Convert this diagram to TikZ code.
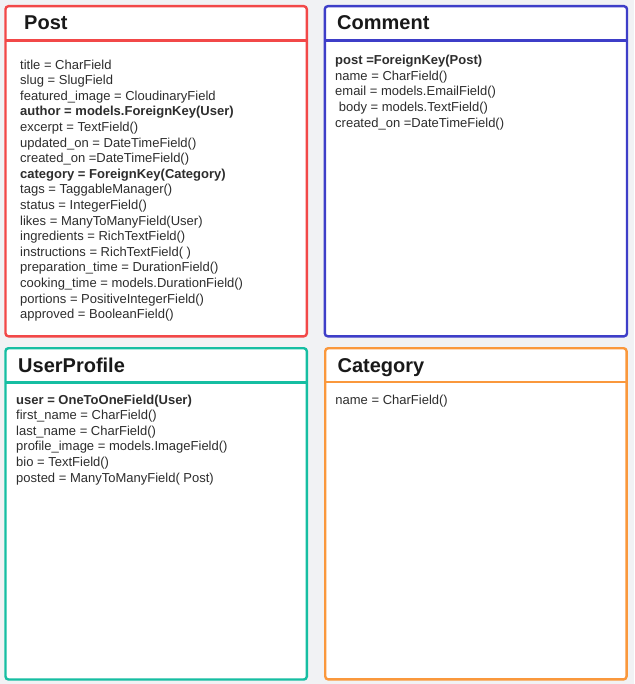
\documentclass[tikz,border=0pt]{standalone}
\usepackage{fontspec}
\setmainfont{Liberation Sans}
\usetikzlibrary{positioning}

\definecolor{pagegray}{RGB}{241,242,244}
\definecolor{postred}{RGB}{242,72,72}
\definecolor{commentblue}{RGB}{62,62,200}
\definecolor{profileteal}{RGB}{22,190,162}
\definecolor{categoryorange}{RGB}{250,152,60}
\definecolor{fieldgray}{RGB}{45,45,45}
\definecolor{titleblack}{RGB}{25,25,25}

\tikzset{
	model/.style     = {draw, fill=white, rectangle, rounded corners=3pt, line width=2.4pt, outer sep=0pt, minimum width=301.3pt, minimum height=330.1pt},
	modelname/.style = {font=\fontsize{20}{24}\selectfont\bfseries, text=titleblack, inner sep=0pt, anchor=base west},
	fields/.style    = {font=\fontsize{13}{15.6}\selectfont, text=fieldgray, align=left, inner sep=0pt, anchor=north west},
	divider/.style   = {line width=2.4pt},
}

\begin{document}
\begin{tikzpicture}[x=1pt, y=-1pt]
	\fill[pagegray] (0,0) rectangle (634,684);

	% Draw the model boxes
	\node[model, draw=postred, anchor=north west                 ] (post) at (5.5,6.2) {};
	\node[model, draw=commentblue, right=18pt of post, minimum width=302.2pt] (comment) {};
	\node[model, draw=profileteal, below=11.9pt of post, minimum height=331.3pt] (profile) {};
	\node[model, draw=categoryorange, below=11.9pt of comment, minimum height=331.2pt] (category) {};

	% Header lines
	\foreach \m/\c/\d in {post/postred/34.3, comment/commentblue/34.3, profile/profileteal/34.1, category/categoryorange/33.9}
		\draw[divider, \c] ([yshift=-\d pt]\m.north west) -- ([yshift=-\d pt]\m.north east);

	% Model names
	\node[modelname] (posttitle)     at ([xshift=18.5pt, yshift=-23.8pt]post.north west)     {Post};
	\node[modelname] (commenttitle)  at ([xshift=12.2pt, yshift=-23.8pt]comment.north west)  {Comment};
	\node[modelname] (profiletitle)  at ([xshift=12.5pt, yshift=-24.1pt]profile.north west)  {UserProfile};
	\node[modelname] (categorytitle) at ([xshift=12.2pt, yshift=-24pt]category.north west)   {Category};

	% Fields
	\node[fields] (postfields) at ([xshift=14.5pt, yshift=-53.3pt]post.north west) {
		title = CharField\\
		slug = SlugField\\
		featured\_image = CloudinaryField\\
		\textbf{author = models.ForeignKey(User)}\\
		excerpt = TextField()\\
		updated\_on = DateTimeField()\\
		created\_on =DateTimeField()\\
		\textbf{category = ForeignKey(Category)}\\
		tags = TaggableManager()\\
		status = IntegerField()\\
		likes = ManyToManyField(User)\\
		ingredients = RichTextField()\\
		instructions = RichTextField( )\\
		preparation\_time = DurationField()\\
		cooking\_time = models.DurationField()\\
		portions = PositiveIntegerField()\\
		approved = BooleanField()};
	\node[fields] (commentfields) at ([xshift=10.2pt, yshift=-48.8pt]comment.north west) {
		\textbf{post =ForeignKey(Post)}\\
		name = CharField()\\
		email = models.EmailField()\\
		\ body = models.TextField()\\
		created\_on =DateTimeField()};
	\node[fields] (profilefields) at ([xshift=10.5pt, yshift=-46.3pt]profile.north west) {
		\textbf{user = OneToOneField(User)}\\
		first\_name = CharField()\\
		last\_name = CharField()\\
		profile\_image = models.ImageField()\\
		bio = TextField()\\
		posted = ManyToManyField( Post)};
	\node[fields] (categoryfields) at ([xshift=10pt, yshift=-46.2pt]category.north west) {
		name = CharField()};
\end{tikzpicture}
\end{document}
